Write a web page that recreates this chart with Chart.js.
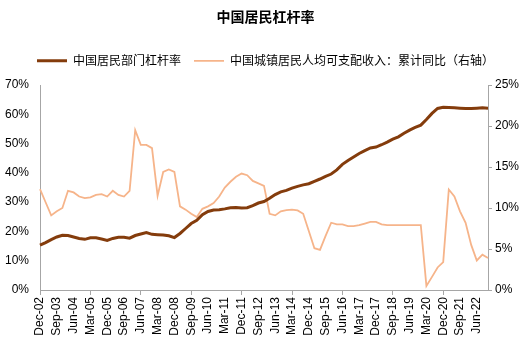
<!DOCTYPE html>
<html>
<head>
<meta charset="utf-8">
<script src="https://cdn.jsdelivr.net/npm/chart.js@4.4.0/dist/chart.umd.min.js"></script>
<style>
  html, body { margin: 0; padding: 0; background: #fff; }
  #wrap { width: 531px; height: 345px; position: relative; }
</style>
</head>
<body>
<div id="wrap"><canvas id="leverageChart"></canvas></div>
<script>
// Quarterly categories, Dec-02 .. Dec-22
const quarterMonths = ['Mar', 'Jun', 'Sep', 'Dec'];
const quarters = [];
for (let y = 2002; y <= 2022; y++) {
    quarterMonths.forEach((m, q) => {
        if (y === 2002 && q < 3) return;
        quarters.push(m + '-' + String(y).slice(2));
    });
}

// 中国居民部门杠杆率 (%), left axis
const householdLeverage = [
    15.3, 16.2, 17.2, 18.1, 18.7, 18.6, 18.1, 17.6, 17.3, 17.8,
    17.8, 17.4, 16.9, 17.6, 18.0, 18.0, 17.7, 18.6, 19.1, 19.6,
    19.0, 18.9, 18.8, 18.5, 17.9, 19.3, 21.0, 22.7, 23.8, 25.7,
    26.8, 27.3, 27.4, 27.7, 28.1, 28.2, 28.0, 28.1, 28.8, 29.7,
    30.2, 31.3, 32.6, 33.5, 34.0, 34.8, 35.4, 35.9, 36.3, 37.1,
    37.9, 38.8, 39.6, 41.0, 42.9, 44.2, 45.4, 46.6, 47.6, 48.5,
    48.8, 49.6, 50.5, 51.5, 52.3, 53.5, 54.6, 55.5, 56.3, 58.2,
    60.3, 62.0, 62.4, 62.3, 62.2, 62.1, 62.0, 62.0, 62.1, 62.2,
    62.1
];

// 中国城镇居民人均可支配收入：累计同比 (%), right axis
const urbanIncomeYoY = [
    12.3, 10.7, 9.1, 9.6, 10.0, 12.1, 11.9, 11.4, 11.2, 11.3,
    11.6, 11.7, 11.4, 12.1, 11.6, 11.4, 12.1, 19.5, 17.7, 17.7,
    17.3, 11.5, 14.4, 14.7, 14.4, 10.2, 9.8, 9.3, 8.9, 9.9,
    10.2, 10.6, 11.4, 12.5, 13.2, 13.8, 14.2, 14.0, 13.3, 13.0,
    12.7, 9.3, 9.1, 9.6, 9.75, 9.8, 9.7, 9.3, 7.2, 5.1,
    4.9, 6.6, 8.2, 8.0, 8.0, 7.8, 7.8, 7.9, 8.1, 8.3,
    8.3, 8.0, 7.9, 7.9, 7.9, 7.9, 7.9, 7.9, 7.9, 0.5,
    1.6, 2.75, 3.4, 12.25, 11.4, 9.6, 8.2, 5.5, 3.6, 4.3,
    3.9
];

const leftTicks = { min: 0, max: 70, step: 10 };
const rightTicks = { min: 0, max: 25, step: 5 };

const axisColor = '#a6a6a6';
const tickFont = { family: 'Liberation Sans', size: 12 };
const cjkFont = 'Noto Sans CJK SC';

const ctx = document.getElementById('leverageChart').getContext('2d');

new Chart(ctx, {
    type: 'line',
    data: {
        labels: quarters,
        datasets: [
            {
                label: '中国居民部门杠杆率',
                data: householdLeverage,
                yAxisID: 'y',
                borderColor: '#843c0c',
                backgroundColor: '#843c0c',
                borderWidth: 3,
                pointRadius: 0,
                tension: 0,
                pointStyle: 'line'
            },
            {
                label: '中国城镇居民人均可支配收入：累计同比（右轴）',
                data: urbanIncomeYoY,
                yAxisID: 'y1',
                borderColor: '#f6b48a',
                backgroundColor: '#f6b48a',
                borderWidth: 1.8,
                pointRadius: 0,
                tension: 0,
                pointStyle: 'line'
            }
        ]
    },
    options: {
        responsive: true,
        maintainAspectRatio: false,
        animation: false,
        layout: { padding: 0 },
        plugins: {
            title: {
                display: true,
                text: '中国居民杠杆率',
                color: '#000',
                font: { family: cjkFont, size: 14, weight: 'bold' },
                padding: { top: 8, bottom: 17 }
            },
            // empty spacer between legend and plot area
            subtitle: {
                display: true,
                text: '',
                weight: 500,
                font: { size: 1 },
                padding: { top: 0, bottom: 7 }
            },
            legend: {
                position: 'top',
                labels: {
                    usePointStyle: true,
                    pointStyleWidth: 30,
                    boxHeight: 12,
                    color: '#000',
                    font: { family: cjkFont, size: 12 },
                    padding: 13
                }
            },
            tooltip: { enabled: false }
        },
        scales: {
            x: {
                offset: false,
                grid: {
                    drawOnChartArea: false,
                    drawTicks: true,
                    tickLength: 5,
                    color: (c) => (c.index % 3 === 0 ? axisColor : 'rgba(0,0,0,0)')
                },
                border: { color: axisColor },
                ticks: {
                    autoSkip: false,
                    maxRotation: 90,
                    minRotation: 90,
                    padding: 2,
                    color: '#000',
                    font: tickFont,
                    callback: (v, i) => (i % 3 === 0 ? quarters[i] : null)
                },
                afterFit: (scale) => { scale.height = 55; }
            },
            y: {
                position: 'left',
                min: leftTicks.min,
                max: leftTicks.max,
                grid: { display: false },
                border: { color: axisColor },
                ticks: {
                    stepSize: leftTicks.step,
                    color: '#000',
                    font: tickFont,
                    padding: 3,
                    callback: (v) => v + '%'
                },
                afterFit: (scale) => { scale.width = 40; }
            },
            y1: {
                position: 'right',
                min: rightTicks.min,
                max: rightTicks.max,
                grid: { drawOnChartArea: false, tickLength: 4, color: axisColor },
                border: { color: axisColor },
                ticks: {
                    stepSize: rightTicks.step,
                    color: '#000',
                    font: tickFont,
                    padding: 3,
                    callback: (v) => v + '%'
                },
                afterFit: (scale) => { scale.width = 43; }
            }
        }
    }
});
</script>
</body>
</html>
